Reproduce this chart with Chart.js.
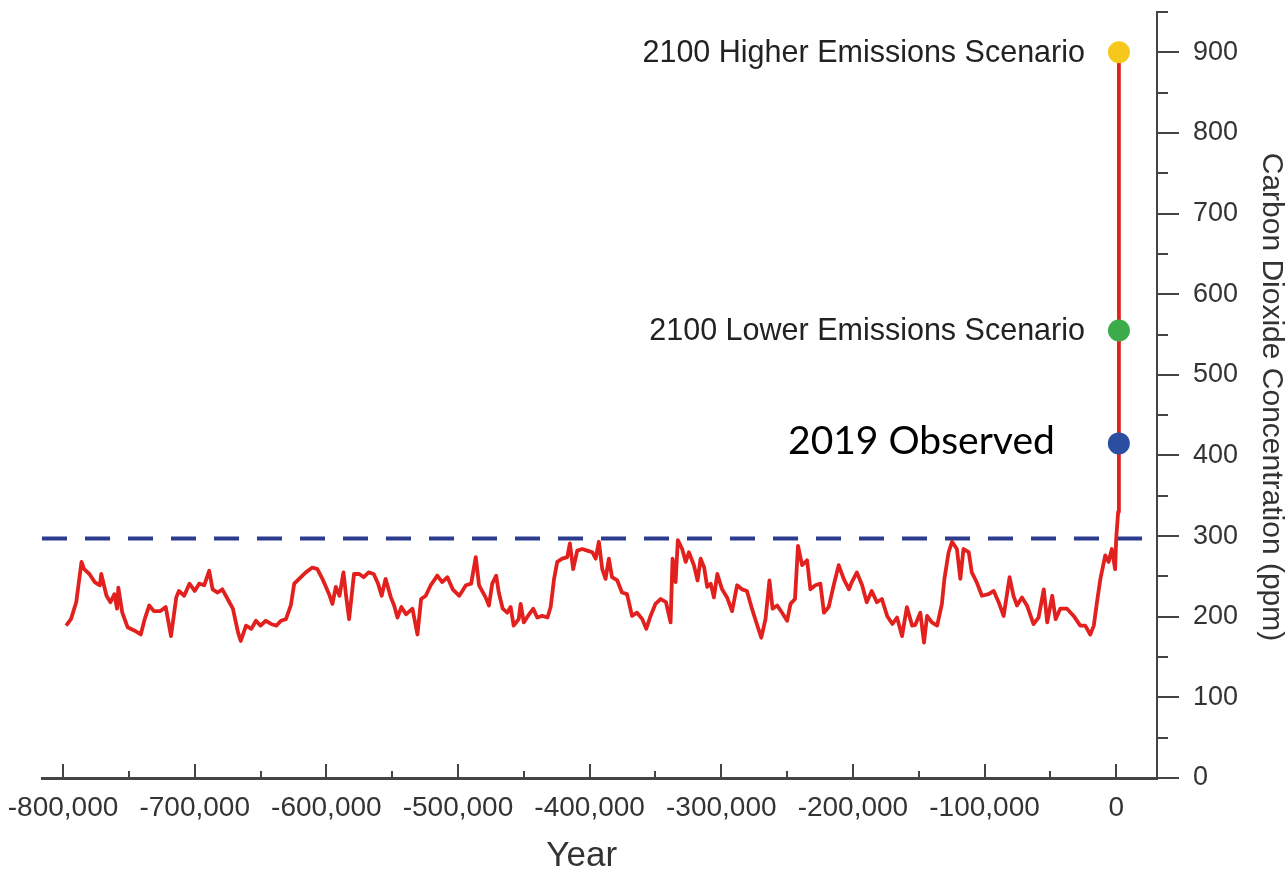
<!DOCTYPE html>
<html><head><meta charset="utf-8">
<script src="https://cdn.jsdelivr.net/npm/chart.js@4"></script>
<style>html,body{margin:0;padding:0;background:#fff}canvas{display:block}</style>
</head><body>
<canvas id="c" width="1288" height="873"></canvas>
<script>
const co2Years = [
-797700,-794000,-790000,-786000,-784000,-780000,-776000,-772000,-771000,-767000,-764000,-761000,-759000,-758000,-755000,-751000,-746000,-741000,-738000,-734500,
-731000,-726000,-722000,-718000,-714000,-712000,-708000,-704000,-700000,-696600,-692800,-689000,-686400,-682600,-679000,-675000,-671000,-667000,-665000,-661000,
-657000,-653500,-650000,-646000,-642000,-638000,-634500,-630700,-627000,-624400,-620700,-615600,-610600,-606800,-603000,-597900,-595400,-592800,-590000,-587000,
-585000,-582700,-579000,-575000,-571600,-567900,-564000,-560700,-558000,-555000,-551000,-548500,-546000,-543000,-539500,-534600,-530800,-528000,-524500,-520700,
-515700,-512000,-508000,-504000,-499000,-494000,-490000,-486500,-484000,-479000,-476500,-474000,-471000,-469000,-466000,-462600,-460000,-457700,-453900,-452400,
-450000,-446000,-442800,-439800,-436000,-432000,-429600,-427000,-424600,-420800,-417000,-415000,-412500,-409400,-405600,-401800,-398000,-395400,-393000,-390400,
-387900,-385400,-383000,-379000,-375400,-371600,-367800,-364000,-360000,-357000,-353700,-350000,-346000,-342000,-338500,-337000,-334700,-333000,-329700,-327000,
-324600,-320800,-318000,-315700,-313000,-310700,-308000,-305600,-303000,-299400,-295600,-291800,-288000,-284300,-280500,-276700,-273000,-269600,-266400,-263400,
-261000,-257600,-253800,-250000,-247400,-244000,-241700,-238600,-234800,-232300,-228500,-224700,-222000,-218400,-214600,-210800,-207000,-203000,-200800,-197000,
-193000,-189500,-185700,-181800,-178000,-174000,-170000,-166500,-162700,-159000,-155000,-152600,-148800,-146000,-143700,-140000,-136000,-132400,-130500,-127300,
-124700,-121000,-118400,-116000,-112000,-109700,-106000,-102000,-97000,-93000,-89300,-85500,-81000,-78000,-75400,-71600,-67800,-62800,-59000,-55000,
-52400,-48600,-46000,-42500,-37400,-32300,-27300,-23500,-19700,-17000,-14600,-12000,-8300,-5800,-3300,-800,0,1500,2019,2100
];
const co2Ppm = [
189,197,218,268,259,253,243,239,253,226,218,228,210,236,205,187,183,178,197,214,
207,207,212,176,224,232,226,241,232,241,239,257,234,230,234,222,210,180,170,189,
185,195,189,195,191,189,195,197,214,241,247,255,261,259,247,228,216,237,226,255,
226,197,253,253,249,255,253,241,226,247,224,214,199,212,203,210,178,222,226,239,
251,243,249,234,226,239,241,274,239,224,214,241,251,230,210,205,212,189,197,216,
193,203,210,199,201,199,212,247,268,272,274,291,259,282,284,282,280,272,293,259,
247,272,249,245,230,228,201,205,197,185,201,216,222,218,193,272,243,295,284,268,
280,264,245,272,261,237,241,224,253,234,224,207,239,234,232,210,191,174,197,245,
210,214,205,195,216,222,288,264,270,234,239,241,205,212,239,264,247,234,243,255,
239,218,232,218,222,201,191,199,176,212,189,190,205,168,201,193,189,216,247,280,
293,284,247,284,280,255,243,226,228,232,218,201,249,226,214,224,214,191,199,234,
193,226,197,210,210,201,189,189,178,189,218,247,276,268,284,259,297,330,415,900
];
const baselineYears = [-816000, 31000];
const baselinePpm = [297, 297];
const scenarioLabels = ['2100 Higher Emissions Scenario', '2100 Lower Emissions Scenario', '2019 Observed'];
const scenarioYears = [2100, 2100, 2019];
const scenarioPpm = [900, 555, 415];
const scenarioColors = ['#f7c81c', '#3cac4a', '#2c4ea0'];
const xMajorTicks = [-800000,-700000,-600000,-500000,-400000,-300000,-200000,-100000,0];
const xMinorTicks = [-750000,-650000,-550000,-450000,-350000,-250000,-150000,-50000];
const yMajorTicks = [0,100,200,300,400,500,600,700,800,900];
const yMinorTicks = [50,150,250,350,450,550,650,750,850,950];
const xTitle = 'Year';
const yTitle = 'Carbon Dioxide Concentration (ppm)';

const co2Points = co2Years.map((x, i) => ({x, y: co2Ppm[i]}));
const baselinePoints = baselineYears.map((x, i) => ({x, y: baselinePpm[i]}));
const scenarioDatasets = scenarioLabels.map((lab, i) => ({
  type: 'scatter', label: lab,
  data: [{x: scenarioYears[i], y: scenarioPpm[i]}],
  backgroundColor: scenarioColors[i], borderWidth: 0,
  pointRadius: 11, pointHoverRadius: 11
}));

const decorations = {
  id: 'decorations',
  afterDatasetsDraw(chart) {
    const {ctx, chartArea: ca, scales: {x, y}} = chart;
    ctx.save();
    ctx.strokeStyle = '#444';
    ctx.lineWidth = 2;
    ctx.beginPath();
    xMajorTicks.forEach(v => { const p = Math.round(x.getPixelForValue(v)); ctx.moveTo(p, ca.bottom); ctx.lineTo(p, ca.bottom - 14); });
    xMinorTicks.forEach(v => { const p = Math.round(x.getPixelForValue(v)); ctx.moveTo(p, ca.bottom); ctx.lineTo(p, ca.bottom - 7); });
    yMajorTicks.forEach(v => { const p = Math.round(y.getPixelForValue(v)); ctx.moveTo(ca.right, p); ctx.lineTo(ca.right + 22, p); });
    yMinorTicks.forEach(v => { const p = Math.round(y.getPixelForValue(v)); ctx.moveTo(ca.right, p); ctx.lineTo(ca.right + 11, p); });
    ctx.stroke();

    // scenario labels
    ctx.textBaseline = 'middle';
    ctx.textAlign = 'right';
    scenarioLabels.forEach((lab, i) => {
      const px = x.getPixelForValue(scenarioYears[i]);
      const py = y.getPixelForValue(scenarioPpm[i]);
      if (i < 2) {
        ctx.font = '30.5px "Liberation Sans", Arial, sans-serif';
        ctx.fillStyle = '#222';
        ctx.fillText(lab, px - 34, py + 1);
      } else {
        ctx.font = '39px Lato, "Open Sans", sans-serif';
        ctx.fillStyle = '#000';
        ctx.fillText(lab, px - 64, py - 2);
      }
    });

    // axis titles
    ctx.fillStyle = '#333';
    ctx.textAlign = 'center';
    ctx.font = '35px "Liberation Sans", Arial, sans-serif';
    ctx.fillText(xTitle, x.getPixelForValue(-406000), 856);
    ctx.save();
    ctx.translate(1271, (ca.top + ca.bottom) / 2 + 2);
    ctx.rotate(Math.PI / 2);
    ctx.font = '30px "Liberation Sans", Arial, sans-serif';
    ctx.fillText(yTitle, 0, 0);
    ctx.restore();
    ctx.restore();
  }
};

new Chart(document.getElementById('c'), {
  type: 'line',
  data: {
    datasets: [
      ...scenarioDatasets,
      { type: 'line', label: 'CO2', data: co2Points, borderColor: '#e2201d', borderWidth: 3.8,
        pointRadius: 0, tension: 0, fill: false, borderJoinStyle: 'round' },
      { type: 'line', label: 'Pre-industrial max', data: baselinePoints, borderColor: '#2d3b8e',
        borderWidth: 4, borderDash: [25, 18], pointRadius: 0, fill: false }
    ]
  },
  options: {
    responsive: false,
    devicePixelRatio: 1,
    animation: false,
    layout: { padding: { left: 42, top: 12, right: 0, bottom: 0 } },
    plugins: { legend: { display: false }, tooltip: { enabled: false } },
    scales: {
      x: {
        type: 'linear', position: 'bottom', min: -816000, max: 31000,
        afterBuildTicks: s => { s.ticks = xMajorTicks.map(v => ({value: v})); },
        afterFit: s => { s.height = 95; s.paddingLeft = 0; s.paddingRight = 0; },
        grid: { display: false, drawTicks: false },
        border: { display: true, color: '#444', width: 3 },
        ticks: {
          padding: 13, color: '#333', maxRotation: 0, autoSkip: false,
          font: { family: '"Liberation Sans", Arial, sans-serif', size: 28 },
          callback: v => Number(v).toLocaleString('en-US')
        }
      },
      y: {
        type: 'linear', position: 'right', min: 0, max: 950,
        afterBuildTicks: s => { s.ticks = yMajorTicks.map(v => ({value: v})); },
        afterFit: s => { s.width = 131; s.paddingTop = 0; s.paddingBottom = 0; },
        grid: { display: false, drawTicks: false },
        border: { display: true, color: '#444', width: 2 },
        ticks: {
          padding: 36, color: '#333', autoSkip: false,
          font: { family: '"Liberation Sans", Arial, sans-serif', size: 27 },
          callback: v => String(v)
        }
      }
    }
  },
  plugins: [decorations]
});
</script>
</body></html>
